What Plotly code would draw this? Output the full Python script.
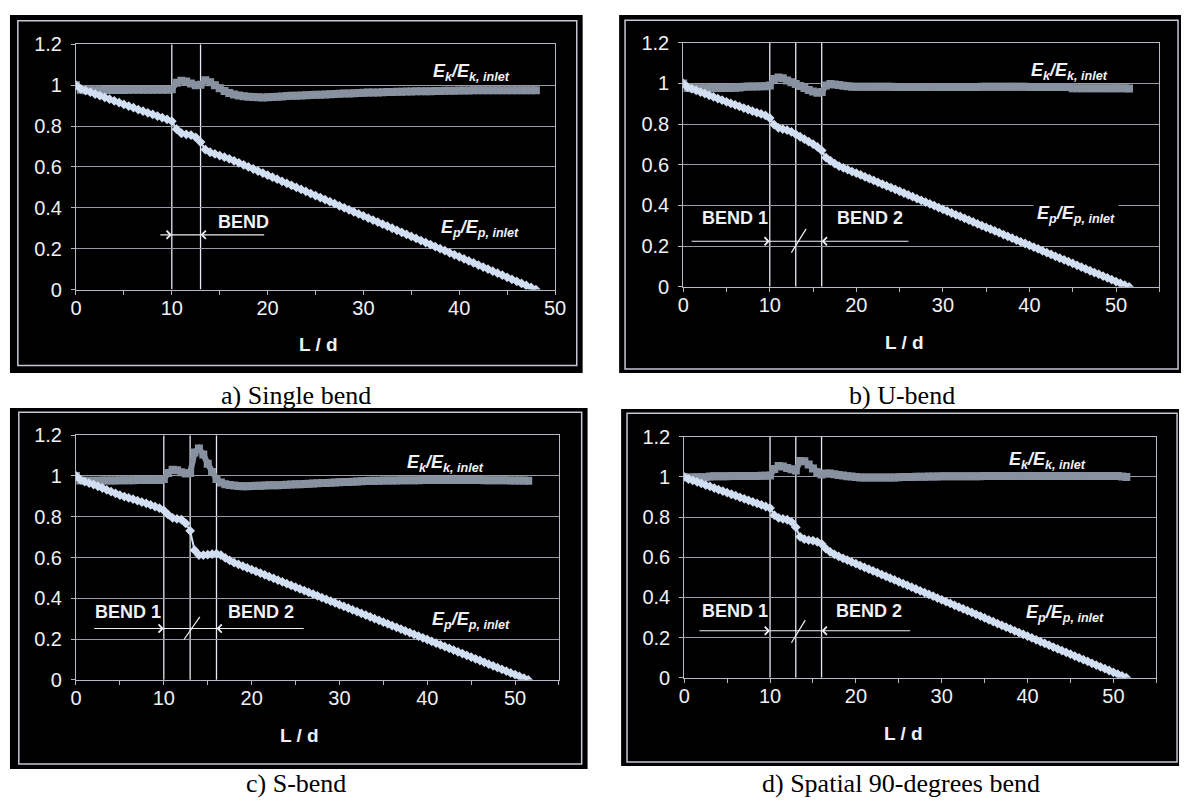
import plotly.graph_objects as go

W, H = 1192, 812

# ---------------- data ----------------
X_A = [0, 0.5, 1, 1.5, 2, 2.5, 3, 3.5, 4, 4.5, 5, 5.5, 6, 6.5, 7, 7.5, 8, 8.5, 9, 9.5,
       10, 10.5, 11, 11.5, 12, 12.5, 13, 13.5, 14, 14.5, 15, 15.5, 16, 16.5, 17, 17.5, 18, 18.5, 19, 19.5,
       20, 20.5, 21, 21.5, 22, 22.5, 23, 23.5, 24, 24.5, 25, 25.5, 26, 26.5, 27, 27.5, 28, 28.5, 29, 29.5,
       30, 30.5, 31, 31.5, 32, 32.5, 33, 33.5, 34, 34.5, 35, 35.5, 36, 36.5, 37, 37.5, 38, 38.5, 39, 39.5,
       40, 40.5, 41, 41.5, 42, 42.5, 43, 43.5, 44, 44.5, 45, 45.5, 46, 46.5, 47, 47.5, 48]

X_BCD = [0, 0.5, 1, 1.5, 2, 2.5, 3, 3.5, 4, 4.5, 5, 5.5, 6, 6.5, 7, 7.5, 8, 8.5, 9, 9.5,
         10, 10.5, 11, 11.5, 12, 12.5, 13, 13.5, 14, 14.5, 15, 15.5, 16, 16.5, 17, 17.5, 18, 18.5, 19, 19.5,
         20, 20.5, 21, 21.5, 22, 22.5, 23, 23.5, 24, 24.5, 25, 25.5, 26, 26.5, 27, 27.5, 28, 28.5, 29, 29.5,
         30, 30.5, 31, 31.5, 32, 32.5, 33, 33.5, 34, 34.5, 35, 35.5, 36, 36.5, 37, 37.5, 38, 38.5, 39, 39.5,
         40, 40.5, 41, 41.5, 42, 42.5, 43, 43.5, 44, 44.5, 45, 45.5, 46, 46.5, 47, 47.5, 48, 48.5, 49, 49.5,
         50, 50.5, 51, 51.5]

# a) Single bend
EK_A = [1.000, 0.978,
        0.976, 0.976, 0.976, 0.976, 0.977, 0.977, 0.977, 0.977, 0.977, 0.978, 0.978, 0.978, 0.978, 0.978, 0.978, 0.978, 0.978, 0.978,
        0.980,
        1.012, 1.022, 1.018, 1.008, 1.000, 1.002, 1.024, 1.015, 1.000, 0.985, 0.972, 0.962, 0.955, 0.950, 0.946, 0.944, 0.942, 0.941, 0.940,
        0.941, 0.942, 0.944, 0.945, 0.947, 0.948, 0.949, 0.950, 0.951, 0.952, 0.953, 0.954, 0.955, 0.956, 0.957, 0.958, 0.959, 0.960, 0.961, 0.962, 0.963,
        0.964, 0.965, 0.965, 0.966, 0.967, 0.967, 0.968, 0.968, 0.969, 0.969,
        0.970, 0.970, 0.971, 0.971, 0.972, 0.972, 0.973, 0.973, 0.973, 0.974,
        0.974, 0.974, 0.975, 0.975, 0.975, 0.975, 0.975, 0.976, 0.976, 0.976, 0.976, 0.976, 0.976, 0.976, 0.976, 0.976]
EP_A = [1.000, 0.982, 0.974, 0.966, 0.957, 0.949, 0.940, 0.932, 0.923, 0.915, 0.906, 0.898, 0.890, 0.881, 0.873, 0.865,
        0.857, 0.849, 0.841, 0.833, 0.824, 0.785, 0.765, 0.760, 0.756, 0.745, 0.722, 0.685, 0.672, 0.664, 0.656, 0.648, 0.640,
        0.630, 0.620, 0.610, 0.600, 0.590, 0.580, 0.570, 0.560, 0.550, 0.540,
        0.530, 0.520, 0.510, 0.500, 0.490, 0.480, 0.470, 0.460, 0.450, 0.440,
        0.430, 0.420, 0.410, 0.400, 0.390, 0.380, 0.370, 0.360, 0.350, 0.340,
        0.330, 0.320, 0.310, 0.300, 0.290, 0.280, 0.270, 0.260, 0.250, 0.240,
        0.230, 0.220, 0.210, 0.200, 0.190, 0.180, 0.170, 0.160, 0.150, 0.140,
        0.130, 0.120, 0.110, 0.100, 0.090, 0.080, 0.070, 0.060, 0.050, 0.040,
        0.030, 0.020, 0.010, 0.000]

# b) U-bend
EK_B = [1.000,
        0.978, 0.977, 0.977, 0.977, 0.977, 0.977, 0.978, 0.978, 0.978, 0.978, 0.978, 0.979, 0.980,
        0.984, 0.985, 0.985, 0.985, 0.986, 0.986,
        0.990,
        1.022, 1.030, 1.026, 1.015, 1.006, 0.998, 0.988, 0.978, 0.968, 0.960, 0.955, 0.958, 0.990, 0.997, 0.995, 0.992, 0.989, 0.986,
        0.984, 0.984, 0.984, 0.984, 0.984, 0.984, 0.984, 0.984, 0.984, 0.984,
        0.983, 0.983, 0.983, 0.983, 0.983, 0.983, 0.983, 0.983, 0.983, 0.983,
        0.983, 0.983, 0.983, 0.983, 0.983, 0.983, 0.983, 0.983, 0.983, 0.983,
        0.984, 0.984, 0.984, 0.984, 0.984, 0.984, 0.984, 0.984, 0.984, 0.984, 0.984,
        0.983, 0.983, 0.983, 0.983, 0.983, 0.983, 0.983, 0.983, 0.983, 0.983,
        0.976, 0.976, 0.976, 0.976, 0.976, 0.976, 0.976, 0.976, 0.976, 0.976, 0.976, 0.976, 0.976, 0.975]
EP_B = [1.000, 0.982, 0.974, 0.966, 0.958, 0.950, 0.942, 0.934, 0.926, 0.918, 0.910, 0.902, 0.895, 0.887, 0.879, 0.872,
        0.864, 0.857, 0.850, 0.843, 0.830, 0.798, 0.782, 0.776, 0.771, 0.762, 0.750, 0.738, 0.726, 0.714, 0.702, 0.688,
        0.670, 0.635, 0.620, 0.606, 0.594,
        0.585, 0.576, 0.567, 0.559, 0.550, 0.541, 0.532, 0.523, 0.514, 0.505,
        0.496, 0.488, 0.479, 0.470, 0.461, 0.452, 0.443, 0.434, 0.425, 0.417,
        0.408, 0.399, 0.390, 0.381, 0.372, 0.363, 0.354, 0.346, 0.337, 0.328,
        0.319, 0.310, 0.301, 0.292, 0.284, 0.275, 0.266, 0.257, 0.248, 0.239,
        0.230, 0.221, 0.213, 0.204, 0.195, 0.186, 0.177, 0.168, 0.159, 0.150,
        0.141, 0.133, 0.124, 0.115, 0.106, 0.097, 0.088, 0.079, 0.070, 0.062,
        0.053, 0.044, 0.035, 0.026, 0.017, 0.008, 0.000]

# c) S-bend
EK_C = [1.000,
        0.978, 0.977, 0.977, 0.977, 0.977, 0.978, 0.978, 0.978, 0.978, 0.979, 0.979, 0.979, 0.979, 0.980, 0.980, 0.980, 0.980, 0.980, 0.980,
        0.985,
        1.015, 1.030, 1.028, 1.018, 1.012, 1.015, 1.115, 1.135, 1.105, 1.060, 1.020, 0.985, 0.968, 0.960, 0.956, 0.953, 0.951, 0.950,
        0.950, 0.951, 0.952, 0.952, 0.953, 0.954, 0.955, 0.955, 0.956, 0.957, 0.958,
        0.959, 0.960, 0.961, 0.962, 0.963, 0.964, 0.965, 0.966, 0.967, 0.968,
        0.969, 0.970, 0.971, 0.972, 0.973, 0.974, 0.975, 0.976, 0.977, 0.977,
        0.978, 0.978, 0.978, 0.978, 0.979, 0.979, 0.979, 0.979, 0.979, 0.980,
        0.980, 0.980, 0.980, 0.980, 0.980, 0.980, 0.980, 0.980, 0.980, 0.980,
        0.980, 0.980, 0.980, 0.979, 0.979, 0.979, 0.979, 0.979, 0.979, 0.978, 0.978, 0.978, 0.978, 0.977]
EP_C = [1.000, 0.982, 0.972, 0.965, 0.958, 0.949, 0.941, 0.932, 0.923, 0.915, 0.906, 0.899, 0.892, 0.886, 0.879, 0.872,
        0.866, 0.858, 0.850, 0.842, 0.831, 0.810, 0.794, 0.789, 0.786, 0.767, 0.731, 0.636, 0.612, 0.612, 0.614, 0.617,
        0.619, 0.612, 0.598, 0.586, 0.575,
        0.566, 0.558, 0.549, 0.541, 0.532, 0.524, 0.515, 0.506, 0.498, 0.489,
        0.481, 0.472, 0.463, 0.455, 0.446, 0.438, 0.429, 0.421, 0.412, 0.403,
        0.395, 0.386, 0.378, 0.369, 0.360, 0.352, 0.343, 0.335, 0.326, 0.318,
        0.309, 0.300, 0.292, 0.283, 0.275, 0.266, 0.258, 0.249, 0.240, 0.232,
        0.223, 0.215, 0.206, 0.198, 0.189, 0.180, 0.172, 0.163, 0.155, 0.146,
        0.137, 0.129, 0.120, 0.112, 0.103, 0.095, 0.086, 0.077, 0.069, 0.060,
        0.052, 0.043, 0.034, 0.026, 0.017, 0.009, 0.000]

# d) Spatial 90-degrees bend
EK_D = [1.000,
        0.998, 0.998, 0.999, 0.999, 0.999,
        1.003, 1.004, 1.004, 1.004, 1.004, 1.005, 1.005, 1.005, 1.005, 1.005, 1.005, 1.005, 1.006, 1.006,
        1.008,
        1.040, 1.055, 1.052, 1.045, 1.038, 1.032, 1.080, 1.078, 1.062, 1.042, 1.024, 1.012, 1.018, 1.018, 1.014, 1.010, 1.007, 1.004,
        1.002, 1.000, 0.998,
        0.997, 0.997, 0.997, 0.997, 0.997, 0.997, 0.997, 0.997,
        0.999, 1.000, 1.000, 1.000, 1.001, 1.001, 1.001, 1.002, 1.002, 1.002,
        1.004, 1.004, 1.004, 1.004, 1.004, 1.004, 1.004, 1.004, 1.004, 1.004,
        1.005, 1.005, 1.005, 1.005, 1.005, 1.005, 1.005, 1.005, 1.005, 1.005,
        1.005, 1.005, 1.005, 1.005, 1.005, 1.005, 1.005, 1.005, 1.005, 1.005,
        1.005, 1.005, 1.005, 1.005, 1.005, 1.005, 1.005, 1.005, 1.005, 1.005,
        1.005, 1.005,
        1.003, 1.000]
EP_D = [1.000, 0.990, 0.983, 0.976, 0.968, 0.960, 0.953, 0.945, 0.937, 0.930, 0.922, 0.914, 0.907, 0.899, 0.891, 0.884,
        0.876, 0.868, 0.861, 0.853, 0.845, 0.810, 0.796, 0.791, 0.787, 0.776, 0.750, 0.702, 0.690, 0.686, 0.683, 0.677,
        0.667, 0.643, 0.627, 0.615, 0.604,
        0.595, 0.586, 0.577, 0.568, 0.559, 0.550, 0.541, 0.532, 0.523, 0.514,
        0.505, 0.496, 0.487, 0.478, 0.469, 0.460, 0.451, 0.442, 0.433, 0.424,
        0.415, 0.406, 0.397, 0.388, 0.379, 0.370, 0.361, 0.352, 0.343, 0.334,
        0.325, 0.316, 0.307, 0.298, 0.288, 0.279, 0.270, 0.261, 0.252, 0.243,
        0.234, 0.225, 0.216, 0.207, 0.198, 0.189, 0.180, 0.171, 0.162, 0.153,
        0.144, 0.135, 0.126, 0.117, 0.108, 0.099, 0.090, 0.081, 0.072, 0.063,
        0.054, 0.045, 0.036, 0.027, 0.018, 0.009, 0.000]

BENDS_A = [10, 13]
BENDS_BCD = [10, 13, 16]
X_MAX = [50, 55, 55, 55]
Y_MAX = 1.2
CAPTIONS = ["a) Single bend", "b) U-bend", "c) S-bend", "d) Spatial 90-degrees bend"]
EK_LABEL = "<b><i>E<sub>k</sub>/E<sub>k, inlet</sub></i></b>"
EP_LABEL = "<b><i>E<sub>p</sub>/E<sub>p, inlet</sub></i></b>"
X_TITLE = "<b>L / d</b>"

# ---------------- styling ----------------
EK_COLOR = "rgb(136,145,160)"
EP_COLOR = "rgb(210,222,242)"
GRID = "rgb(150,155,165)"
AXIS = "rgb(180,185,195)"
BEND_COLOR = "rgb(228,232,240)"
FRAME = "rgb(196,200,210)"
TXT = "rgb(238,240,245)"
SANS = "Liberation Sans, Arial, sans-serif"
SERIF = "Liberation Serif, Times New Roman, serif"


def px(x):
    return x / W


def py(y):
    return 1 - y / H


panels = [
    dict(x=X_A, ek=EK_A, ep=EP_A, bends=BENDS_A, xmax=X_MAX[0],
         plot=(71, 34.3, 557, 286.3), box=(4, 4, 585, 372), frame=(12, 10, 579, 364.5),
         cap=(294, 395), title=(317, 343),
         ek_lab=(37.1, 1.062), ep_lab=(37.7, 0.300),
         bend_text=[("BEND", 14.6, 0.33)], arrow_y=0.268,
         arrows=[(8.65, 10), (19.8, 13)], link=(10, 13), slash=None),
    dict(x=X_BCD, ek=EK_B, ep=EP_B, bends=BENDS_BCD, xmax=X_MAX[1],
         plot=(687, 32.7, 1170, 283.5), box=(622, 4, 1192, 372), frame=(628, 9.5, 1189, 368),
         cap=(909, 395), title=(911, 341),
         ek_lab=(39.9, 1.060), ep_lab=(40.4, 0.355),
         bend_text=[("BEND 1", 1.9, 0.337), ("BEND 2", 17.5, 0.337)], arrow_y=0.224,
         arrows=[(0.8, 10), (26.2, 16)], link=(10, 16), slash=((12.5, 0.168), (14.2, 0.285))),
    dict(x=X_BCD, ek=EK_C, ep=EP_C, bends=BENDS_BCD, xmax=X_MAX[2],
         plot=(71, 436, 561, 687.5), box=(4, 408, 590, 779), frame=(13, 412.5, 584, 774),
         cap=(294, 794), title=(298, 745),
         ek_lab=(37.5, 1.060), ep_lab=(40.1, 0.290),
         bend_text=[("BEND 1", 1.9, 0.333), ("BEND 2", 17.1, 0.333)], arrow_y=0.252,
         arrows=[(1.9, 10), (26.1, 16)], link=(10, 16), slash=((12.3, 0.198), (14.1, 0.309))),
    dict(x=X_BCD, ek=EK_D, ep=EP_D, bends=BENDS_BCD, xmax=X_MAX[3],
         plot=(688, 437.7, 1167, 685.3), box=(624, 409, 1190, 776), frame=(630, 413.5, 1188, 772),
         cap=(908, 794), title=(910, 743),
         ek_lab=(37.6, 1.080), ep_lab=(39.3, 0.322),
         bend_text=[("BEND 1", 1.9, 0.333), ("BEND 2", 17.4, 0.333)], arrow_y=0.234,
         arrows=[(1.6, 10), (26.5, 16)], link=(10, 16), slash=((12.5, 0.174), (14.1, 0.287))),
]

fig = go.Figure()
shapes = []
annotations = []
layout = dict(width=W, height=H, margin=dict(l=0, r=0, t=0, b=0, pad=0),
              paper_bgcolor="white", plot_bgcolor="black", showlegend=False)

for i, p in enumerate(panels):
    n = "" if i == 0 else str(i + 1)
    xa, ya = "x" + n, "y" + n
    l, t, r, b = p["plot"]

    # black panel background and light frame
    bl, bt, br, bb = p["box"]
    shapes.append(dict(type="rect", xref="paper", yref="paper", layer="below",
                       x0=px(bl), x1=px(br), y0=py(bb), y1=py(bt),
                       fillcolor="black", line=dict(width=0)))
    fl, ft, fr, fb = p["frame"]
    shapes.append(dict(type="rect", xref="paper", yref="paper", layer="below",
                       x0=px(fl), x1=px(fr), y0=py(fb), y1=py(ft),
                       line=dict(color=FRAME, width=1.5)))

    layout["xaxis" + n] = dict(
        domain=[px(l), px(r)], anchor=ya, range=[0, p["xmax"]],
        tick0=0, dtick=10, ticks="outside", ticklen=4, tickcolor=AXIS,
        minor=dict(dtick=5, ticks="outside", ticklen=4, tickcolor=AXIS, showgrid=False),
        showgrid=False, zeroline=False, showline=True, linecolor=AXIS, linewidth=1, mirror=True,
        tickfont=dict(family=SANS, size=20, color=TXT), ticklabelstandoff=-4,
        fixedrange=True)
    layout["yaxis" + n] = dict(
        domain=[py(b), py(t)], anchor=xa, range=[0, Y_MAX],
        tick0=0, dtick=0.2, ticks="outside", ticklen=4, tickcolor=AXIS,
        showgrid=True, gridcolor=GRID, gridwidth=1, zeroline=False,
        showline=True, linecolor=AXIS, linewidth=1, mirror=True,
        tickfont=dict(family=SANS, size=20, color=TXT), ticklabelstandoff=5,
        fixedrange=True)

    # bend boundaries
    for xb in p["bends"]:
        shapes.append(dict(type="line", xref=xa, yref=ya, layer="below",
                           x0=xb, x1=xb, y0=0, y1=Y_MAX,
                           line=dict(color=BEND_COLOR, width=1.3)))

    # series
    fig.add_trace(go.Scatter(x=p["x"], y=p["ek"], xaxis=xa, yaxis=ya, mode="lines+markers",
                             line=dict(color=EK_COLOR, width=6),
                             marker=dict(symbol="square", size=8, color=EK_COLOR),
                             name="Ek/Ek,inlet", hoverinfo="x+y"))
    fig.add_trace(go.Scatter(x=p["x"], y=p["ep"], xaxis=xa, yaxis=ya, mode="lines+markers",
                             line=dict(color=EP_COLOR, width=2),
                             marker=dict(symbol="diamond", size=7.5, color=EP_COLOR),
                             name="Ep/Ep,inlet", hoverinfo="x+y"))

    # series labels
    annotations.append(dict(xref=xa, yref=ya, x=p["ek_lab"][0], y=p["ek_lab"][1],
                            xanchor="left", yanchor="middle", showarrow=False,
                            text=EK_LABEL, font=dict(family=SANS, size=18, color=TXT)))
    annotations.append(dict(xref=xa, yref=ya, x=p["ep_lab"][0], y=p["ep_lab"][1],
                            xanchor="left", yanchor="middle", showarrow=False,
                            bgcolor="black", borderpad=3,
                            text=EP_LABEL, font=dict(family=SANS, size=18, color=TXT)))

    # bend labels and arrows
    for txt, bx, by in p["bend_text"]:
        annotations.append(dict(xref=xa, yref=ya, x=bx, y=by, xanchor="left", yanchor="middle",
                                showarrow=False, text="<b>" + txt + "</b>",
                                font=dict(family=SANS, size=18, color=TXT)))
    ay = p["arrow_y"]
    for tail, head in p["arrows"]:
        annotations.append(dict(xref=xa, yref=ya, axref=xa, ayref=ya,
                                x=head, y=ay, ax=tail, ay=ay, text="", showarrow=True,
                                arrowhead=4, arrowsize=1.3, arrowwidth=1.2, arrowcolor=TXT))
    shapes.append(dict(type="line", xref=xa, yref=ya, x0=p["link"][0], x1=p["link"][1],
                       y0=ay, y1=ay, line=dict(color=TXT, width=1.2)))
    if p["slash"]:
        (sx0, sy0), (sx1, sy1) = p["slash"]
        shapes.append(dict(type="line", xref=xa, yref=ya, x0=sx0, x1=sx1, y0=sy0, y1=sy1,
                           line=dict(color=TXT, width=1.2)))

    # x-axis title
    annotations.append(dict(xref="paper", yref="paper", x=px(p["title"][0]), y=py(p["title"][1]),
                            xanchor="center", yanchor="middle", showarrow=False,
                            text=X_TITLE, font=dict(family=SANS, size=19, color=TXT)))
    # caption
    annotations.append(dict(xref="paper", yref="paper", x=px(p["cap"][0]), y=py(p["cap"][1]),
                            xanchor="center", yanchor="middle", showarrow=False,
                            text=CAPTIONS[i], font=dict(family=SERIF, size=26, color="black")))

layout["shapes"] = shapes
layout["annotations"] = annotations
fig.update_layout(**layout)
fig.write_html("out.html", config={"responsive": False, "displayModeBar": False},
               post_script="document.body.style.margin='0';document.body.style.overflow='hidden';")
